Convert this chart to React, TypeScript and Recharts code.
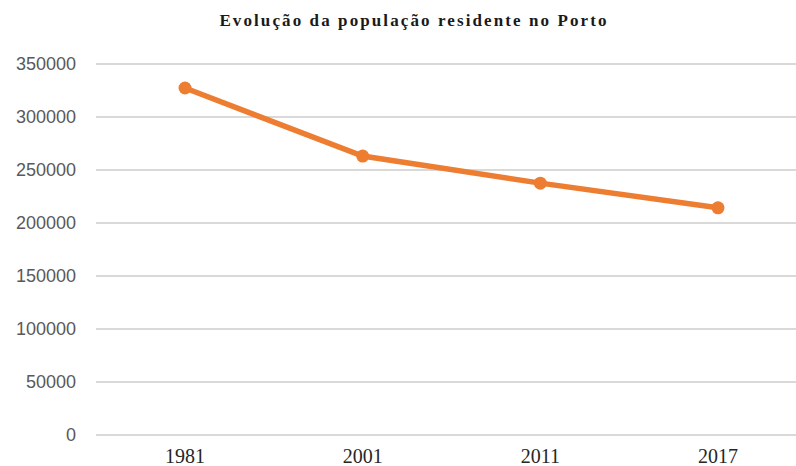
import React from "react";
import { LineChart, Line, XAxis, YAxis, CartesianGrid } from "recharts";

const years = ["1981", "2001", "2011", "2017"];
const population = [327368, 263131, 237591, 214349];
const yTicks = [0, 50000, 100000, 150000, 200000, 250000, 300000, 350000];
const title = "Evolução da população residente no Porto";

const data = years.map((y, i) => ({ year: y, pop: population[i] }));

export default function App() {
  return (
    <div style={{ position: "fixed", top: 0, left: 0, width: 796, height: 466, overflow: "hidden", background: "#fff" }}>
      <div
        style={{
          position: "absolute",
          top: 11,
          left: 0,
          width: 828,
          textAlign: "center",
          fontFamily: "'Liberation Serif', serif",
          fontWeight: "bold",
          fontSize: 17,
          letterSpacing: 2.1,
          color: "#1a1a1a",
          whiteSpace: "nowrap",
        }}
      >
        {title}
      </div>
      <LineChart width={807} height={466} data={data} margin={{ top: 64, right: 0, bottom: 0, left: 0 }}>
        <CartesianGrid vertical={false} stroke="#d9d9d9" strokeWidth={2} />
        <XAxis
          dataKey="year"
          axisLine={false}
          tickLine={false}
          tickSize={6}
          tickMargin={8}
          height={31}
          padding={{ left: 89, right: 89 }}
          tick={{ fontFamily: "'Liberation Serif', serif", fontSize: 20, fill: "#262626" }}
        />
        <YAxis
          domain={[0, 350000]}
          ticks={yTicks}
          interval={0}
          axisLine={false}
          tickLine={false}
          tickSize={6}
          tickMargin={14}
          width={96}
          tick={{ fontFamily: "'Liberation Sans', sans-serif", fontSize: 18, fill: "#595959" }}
        />
        <Line
          type="linear"
          dataKey="pop"
          stroke="#ED7D31"
          strokeWidth={5.5}
          dot={{ r: 6.5, fill: "#ED7D31", stroke: "#ED7D31", strokeWidth: 0 }}
          isAnimationActive={false}
        />
      </LineChart>
    </div>
  );
}
